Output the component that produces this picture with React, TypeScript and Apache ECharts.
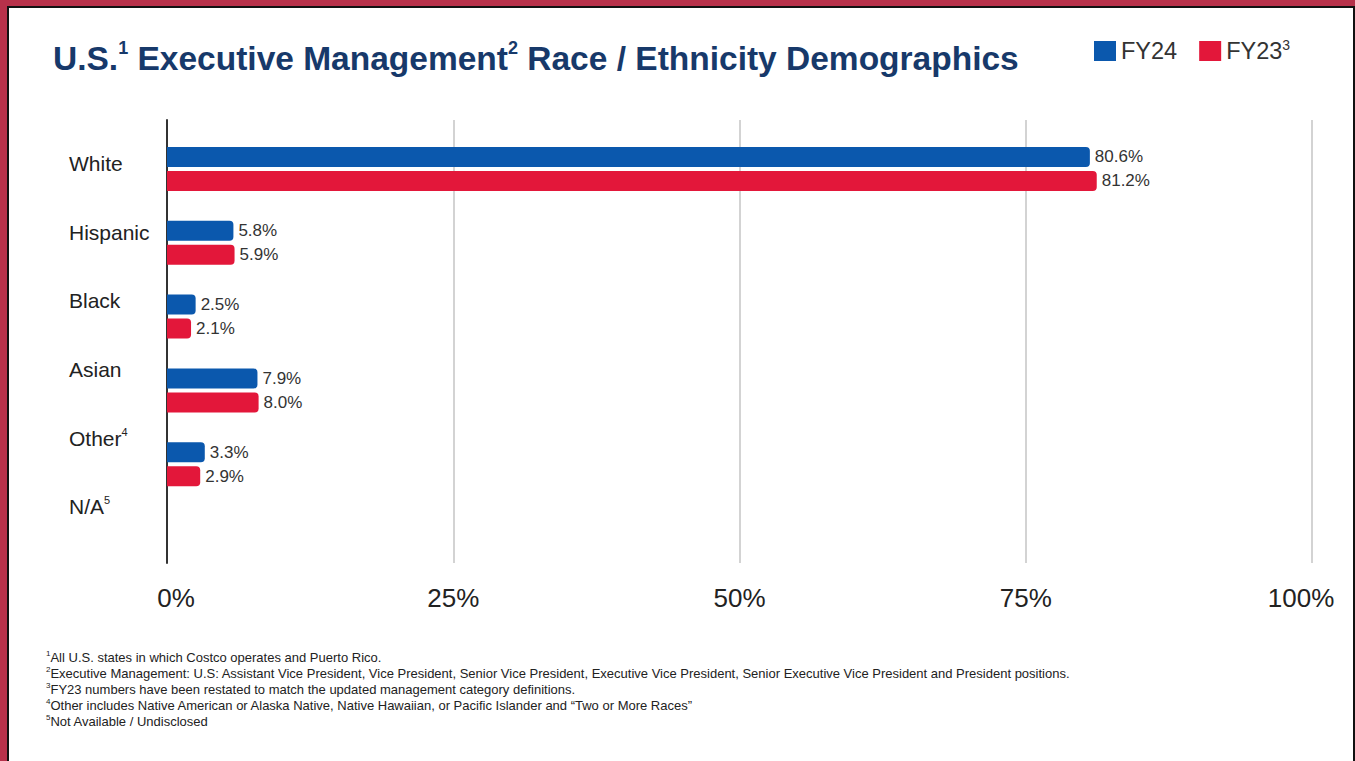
import React, { useEffect, useRef } from 'react';
import * as echarts from 'echarts';

const categories = ['White', 'Hispanic', 'Black', 'Asian', 'Other', 'N/A'];
const categorySup = ['', '', '', '', '4', '5'];
const fy24 = [80.6, 5.8, 2.5, 7.9, 3.3, null];
const fy23 = [81.2, 5.9, 2.1, 8.0, 2.9, null];
const xTicks = [0, 25, 50, 75, 100];
const footnotes = [
  ['1', 'All U.S. states in which Costco operates and Puerto Rico.'],
  ['2', 'Executive Management: U.S: Assistant Vice President, Vice President, Senior Vice President, Executive Vice President, Senior Executive Vice President and President positions.'],
  ['3', 'FY23 numbers have been restated to match the updated management category definitions.'],
  ['4', 'Other includes Native American or Alaska Native, Native Hawaiian, or Pacific Islander and \u201cTwo or More Races\u201d'],
  ['5', 'Not Available / Undisclosed'],
];

const BLUE = '#0b58ad';
const RED = '#e3173a';
const FONT = '"Liberation Sans", Arial, Helvetica, sans-serif';

export default function App() {
  const ref = useRef<HTMLDivElement>(null);

  useEffect(() => {
    if (!ref.current) return;
    const chart = echarts.init(ref.current, undefined, { renderer: 'svg' });
    const labelStyle = {
      show: true,
      position: 'right',
      distance: 5,
      fontSize: 17,
      color: '#333',
      fontFamily: FONT,
      formatter: (p: any) => (p.value == null ? '' : p.value.toFixed(1) + '%'),
    };
    chart.setOption({
      animation: false,
      textStyle: { fontFamily: FONT },
      title: {
        left: 48,
        top: 34,
        text: '{m|U.S.}{s|1}{m| Executive Management}{s|2}{m| Race / Ethnicity Demographics}',
        textStyle: {
          rich: {
            m: { fontSize: 33.5, fontWeight: 'bold', color: '#17396a', fontFamily: FONT, lineHeight: 38 },
            s: { fontSize: 18, fontWeight: 'bold', color: '#17396a', fontFamily: FONT, lineHeight: 28, verticalAlign: 'top' },
          },
        },
      },
      legend: {
        data: ['FY24', 'FY23'],
        left: 1089,
        top: 33,
        icon: 'rect',
        itemWidth: 22,
        itemHeight: 20,
        itemGap: 22,
        formatter: (name: string) => (name === 'FY23' ? '{t|FY23}{s|3}' : '{t|' + name + '}'),
        textStyle: {
          rich: {
            t: { fontSize: 23.5, color: '#333', fontFamily: FONT, lineHeight: 26 },
            s: { fontSize: 14, color: '#333', fontFamily: FONT, lineHeight: 18, verticalAlign: 'top' },
          },
        },
      },
      grid: [
        { left: 167, top: 120, width: 1145, height: 443 },
        { left: 167, top: 129, width: 10, height: 412 },
      ],
      xAxis: [
        {
          gridIndex: 0,
          type: 'value',
          min: 0,
          max: 100,
          interval: 25,
          axisLine: { show: false },
          axisTick: { show: false },
          splitLine: { show: true, lineStyle: { color: '#d3d3d3', width: 2 } },
          axisLabel: {
            margin: 22,
            fontSize: 26,
            color: '#222',
            formatter: (v: number) =>
              v === xTicks[0] ? '{a|' + v + '%}' : v === xTicks[xTicks.length - 1] ? '{b|' + v + '%}' : v + '%',
            rich: {
              a: { fontSize: 26, color: '#222', fontFamily: FONT, padding: [0, 0, 0, 18] },
              b: { fontSize: 26, color: '#222', fontFamily: FONT, padding: [0, 22, 0, 0] },
            },
          },
        },
        { gridIndex: 1, type: 'value', show: false },
      ],
      yAxis: [
        {
          gridIndex: 0,
          type: 'category',
          data: categories,
          inverse: true,
          axisLine: { show: true, lineStyle: { color: '#333', width: 2 } },
          axisTick: { show: false },
          axisLabel: { show: false },
        },
        {
          gridIndex: 1,
          type: 'category',
          data: categories,
          inverse: true,
          axisLine: { show: false },
          axisTick: { show: false },
          axisLabel: {
            align: 'left',
            margin: 98,
            fontSize: 21,
            color: '#222',
            formatter: (v: string, i: number) => (categorySup[i] ? '{t|' + v + '}{s|' + categorySup[i] + '}' : '{t|' + v + '}'),
            rich: {
              t: { fontSize: 21, color: '#222', fontFamily: FONT, lineHeight: 24 },
              s: { fontSize: 11, color: '#222', fontFamily: FONT, lineHeight: 14, verticalAlign: 'top' },
            },
          },
        },
      ],
      series: [
        {
          name: 'spacer',
          type: 'bar',
          xAxisIndex: 0,
          yAxisIndex: 0,
          data: categories.map(() => null),
          barWidth: 20,
          barGap: '20%',
          silent: true,
        },
        {
          name: 'FY24',
          type: 'bar',
          xAxisIndex: 0,
          yAxisIndex: 0,
          data: fy24,
          barWidth: 20,
          barGap: '20%',
          itemStyle: { color: BLUE, borderRadius: [0, 4, 4, 0] },
          label: labelStyle,
        },
        {
          name: 'FY23',
          type: 'bar',
          xAxisIndex: 0,
          yAxisIndex: 0,
          data: fy23,
          barWidth: 20,
          barGap: '20%',
          itemStyle: { color: RED, borderRadius: [0, 4, 4, 0] },
          label: labelStyle,
        },
      ],
      graphic: [
        {
          type: 'text',
          left: 46,
          top: 649,
          style: {
            text: footnotes.map(([n, t]) => '{s|' + n + '}{t|' + t + '}').join('\n'),
            rich: {
              t: { fontSize: 13, fill: '#222', fontFamily: FONT, lineHeight: 16 },
              s: { fontSize: 8, fill: '#222', fontFamily: FONT, lineHeight: 10, verticalAlign: 'top' },
            },
          },
        },
      ],
    });
    return () => chart.dispose();
  }, []);

  return (
    <div style={{ position: 'fixed', left: 0, top: 0, width: 1355, height: 761, background: '#b7314a' }}>
      <div
        style={{
          position: 'absolute',
          left: 7,
          top: 6,
          right: 0,
          bottom: 0,
          background: '#fff',
          borderLeft: '2px solid #111',
          borderTop: '2px solid #111',
          borderRight: '2px solid #111',
          boxSizing: 'border-box',
        }}
      />
      <div ref={ref} style={{ position: 'absolute', left: 0, top: 0, width: 1355, height: 761 }} />
    </div>
  );
}
